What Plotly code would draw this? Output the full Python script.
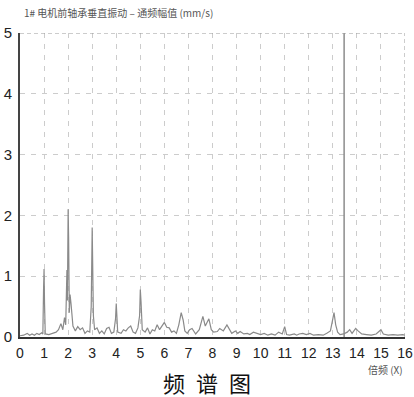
import plotly.graph_objects as go

freq = [0.0, 0.15, 0.3, 0.4, 0.5, 0.6, 0.7, 0.8, 0.9, 0.95, 0.98, 1.0, 1.02, 1.05, 1.2, 1.35, 1.5, 1.6, 1.7, 1.78, 1.85, 1.9, 1.95, 1.97, 2.0, 2.02, 2.05, 2.08, 2.12, 2.15, 2.2, 2.3, 2.4, 2.5, 2.6, 2.7, 2.8, 2.9, 2.96, 3.0, 3.02, 3.05, 3.1, 3.2, 3.3, 3.4, 3.5, 3.6, 3.7, 3.8, 3.9, 3.97, 4.0, 4.02, 4.06, 4.2, 4.3, 4.4, 4.5, 4.6, 4.7, 4.8, 4.9, 4.97, 5.0, 5.03, 5.08, 5.2, 5.3, 5.4, 5.5, 5.6, 5.7, 5.8, 5.9, 6.0, 6.1, 6.2, 6.3, 6.4, 6.5, 6.6, 6.7, 6.78, 6.85, 6.95, 7.05, 7.15, 7.3, 7.45, 7.6, 7.7, 7.85, 7.95, 8.05, 8.2, 8.3, 8.45, 8.6, 8.7, 8.8, 8.95, 9.05, 9.15, 9.3, 9.45, 9.55, 9.7, 9.85, 10.0, 10.15, 10.3, 10.45, 10.6, 10.75, 10.9, 11.0, 11.08, 11.2, 11.4, 11.5, 11.6, 11.75, 11.9, 12.05, 12.2, 12.4, 12.6, 12.75, 12.9, 13.0, 13.05, 13.12, 13.2, 13.3, 13.45, 13.6, 13.7, 13.8, 13.95, 14.05, 14.2, 14.4, 14.6, 14.8, 15.0, 15.1, 15.3, 15.5, 15.7, 15.9, 16.0]
amp = [0.02, 0.03, 0.06, 0.03, 0.05, 0.03, 0.06, 0.04, 0.07, 0.05, 0.8, 1.12, 0.55, 0.05, 0.04, 0.06, 0.08, 0.12, 0.22, 0.12, 0.32, 0.2, 1.1, 0.6, 2.1, 1.65, 0.4, 0.7, 0.55, 0.35, 0.18, 0.1, 0.17, 0.12, 0.15, 0.06, 0.1, 0.08, 0.5, 1.8, 1.38, 0.35, 0.12, 0.15, 0.06, 0.1, 0.05, 0.14, 0.16, 0.06, 0.08, 0.3, 0.55, 0.4, 0.08, 0.06, 0.12, 0.1, 0.15, 0.18, 0.08, 0.06, 0.15, 0.35, 0.78, 0.58, 0.12, 0.08, 0.15, 0.05, 0.12, 0.1, 0.2, 0.12, 0.18, 0.24, 0.16, 0.15, 0.08, 0.1, 0.06, 0.2, 0.4, 0.28, 0.1, 0.06, 0.12, 0.14, 0.05, 0.12, 0.34, 0.18, 0.3, 0.12, 0.08, 0.09, 0.14, 0.1, 0.2, 0.12, 0.06, 0.1, 0.06, 0.09, 0.05, 0.06, 0.04, 0.08, 0.06, 0.04, 0.06, 0.03, 0.05, 0.03, 0.08, 0.05, 0.17, 0.04, 0.03, 0.05, 0.03, 0.05, 0.06, 0.04, 0.06, 0.03, 0.04, 0.03, 0.06, 0.1, 0.3, 0.4, 0.2, 0.08, 0.04, 0.05, 0.08, 0.12, 0.06, 0.14, 0.1, 0.05, 0.04, 0.03, 0.05, 0.12, 0.05, 0.03, 0.04, 0.03, 0.04, 0.03]

x_ticks = list(range(0, 17))
y_ticks = [0, 1, 2, 3, 4, 5]
cursor_x = 13.47

title_text = "1# 电机前轴承垂直振动 – 通频幅值 (mm/s)"
x_unit = "倍频 (X)"
caption = "频\u2002谱\u2002图"

fig = go.Figure()
fig.add_trace(go.Scatter(x=freq, y=amp, mode="lines",
                         line=dict(color="#8a8a8a", width=1.2), showlegend=False))

fig.add_shape(type="line", x0=cursor_x, x1=cursor_x, y0=0, y1=5, xref="x", yref="y",
              line=dict(color="#8c8c8c", width=1.5))
# top and right dashed borders
fig.add_shape(type="line", x0=0, x1=16, y0=5, y1=5, xref="x", yref="y",
              line=dict(color="#999999", width=1, dash="4px,3px"))
fig.add_shape(type="line", x0=16, x1=16, y0=0, y1=5, xref="x", yref="y",
              line=dict(color="#999999", width=1, dash="4px,3px"))

fig.update_layout(
    width=414, height=397,
    margin=dict(l=20, r=9, t=33, b=60),
    paper_bgcolor="white", plot_bgcolor="white",
    font=dict(family="Liberation Sans, Arial, sans-serif", color="#222"),
    xaxis=dict(range=[0, 16], tickvals=x_ticks, ticktext=[str(v) for v in x_ticks],
               showgrid=True, gridcolor="#cccccc", griddash="5px,6px", gridwidth=1,
               zeroline=False, showline=True, linecolor="#333", linewidth=2,
               ticks="", tickfont=dict(size=14, color="#222"), ticklabelstandoff=2,
               automargin=False, ticklabeloverflow="allow"),
    yaxis=dict(range=[0, 5], tickvals=y_ticks, ticktext=[str(v) for v in y_ticks],
               showgrid=True, gridcolor="#cccccc", griddash="5px,6px", gridwidth=1,
               zeroline=False, showline=True, linecolor="#444", linewidth=2,
               ticks="", tickfont=dict(size=15, color="#222"), ticklabelstandoff=3,
               automargin=False, ticklabeloverflow="allow"),
)

fig.add_annotation(text=title_text, xref="paper", yref="paper", x=0.005, y=1.0,
                   yshift=21, xanchor="left", yanchor="middle", showarrow=False,
                   font=dict(size=10, color="#555", family="Noto Sans CJK SC"))
fig.add_annotation(text=x_unit, xref="paper", yref="paper", x=1.0, y=0,
                   yshift=-32, xanchor="right", yanchor="middle", showarrow=False,
                   font=dict(size=10, color="#555", family="Noto Sans CJK SC"))
fig.add_annotation(text=caption, xref="paper", yref="paper", x=0.485, y=0,
                   yshift=-45, xanchor="center", yanchor="middle", showarrow=False,
                   font=dict(size=22, color="#111", family="Noto Sans CJK SC"))

fig.write_html("out.html", config={"displayModeBar": False},
               post_script="document.body.style.margin='0';document.body.style.overflow='hidden';")
